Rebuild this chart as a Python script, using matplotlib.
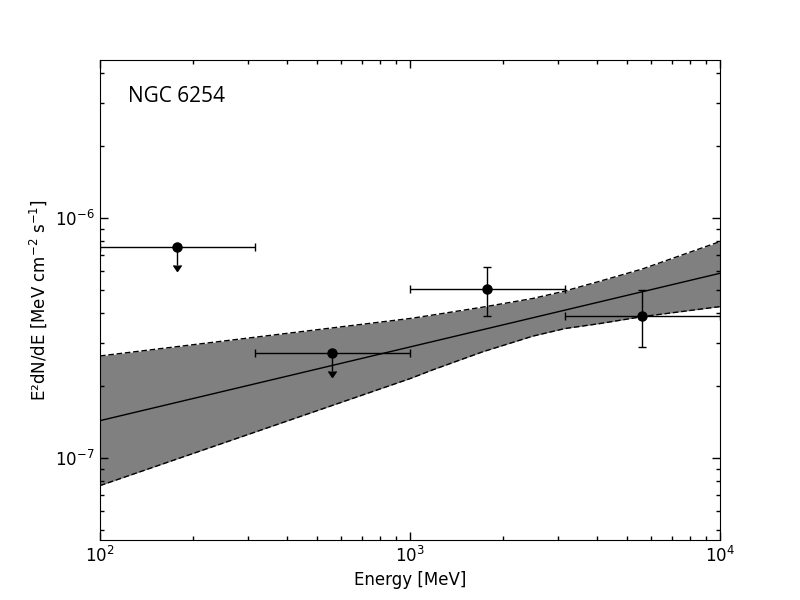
import numpy as np
import matplotlib
matplotlib.use("Agg")
import matplotlib.pyplot as plt
from matplotlib.ticker import NullFormatter

# SED points: energy bins [MeV] and E^2 dN/dE [MeV cm^-2 s^-1]
e_lo = np.array([100.0, 316.2, 1000.0, 3162.0])
e_hi = np.array([316.2, 1000.0, 3162.0, 10000.0])
e_mid = np.sqrt(e_lo * e_hi)
flux = np.array([7.57e-7, 2.74e-7, 5.04e-7, 3.89e-7])
flux_up = np.array([0.0, 0.0, 6.23e-7, 5.01e-7])
flux_down = np.array([0.0, 0.0, 3.89e-7, 2.89e-7])
is_ul = np.array([True, True, False, False])

# butterfly (fit uncertainty band)
band_e = np.array([100.0, 1000.0, 1186.0, 1718.0, 2496.0, 3162.0, 4100.0, 5623.0, 10000.0])
band_upper = np.array([2.66e-7, 3.81e-7, 3.94e-7, 4.25e-7, 4.62e-7, 4.96e-7, 5.45e-7, 6.13e-7, 7.97e-7])
band_lower = np.array([7.67e-8, 2.14e-7, 2.33e-7, 2.77e-7, 3.22e-7, 3.46e-7, 3.63e-7, 3.88e-7, 4.27e-7])

# best-fit power law end points
fit_e = np.array([100.0, 10000.0])
fit_flux = np.array([1.43e-7, 5.88e-7])

source_name = "NGC 6254"

plt.rcParams['font.family'] = 'DejaVu Sans'
plt.rcParams['mathtext.fontset'] = 'dejavusans'
plt.rcParams['axes.unicode_minus'] = False
plt.rcParams['xtick.direction'] = 'in'
plt.rcParams['ytick.direction'] = 'in'
plt.rcParams['xtick.top'] = True
plt.rcParams['ytick.right'] = True

fig = plt.figure(figsize=(8, 6), dpi=100)
ax = fig.add_axes([0.125, 0.1, 0.775, 0.8])

# band with dashed edges
ax.fill_between(band_e, band_lower, band_upper, color='0.5', lw=0)
ax.plot(band_e, band_upper, 'k--', lw=1, dashes=(4, 2))
ax.plot(band_e, band_lower, 'k--', lw=1, dashes=(4, 2))
ax.plot(fit_e, fit_flux, 'k-', lw=1)

xerr = [e_mid - e_lo, e_hi - e_mid]

# detected points
det = ~is_ul
ax.errorbar(e_mid[det], flux[det],
            xerr=[xerr[0][det], xerr[1][det]],
            yerr=[flux[det] - flux_down[det], flux_up[det] - flux[det]],
            fmt='o', color='k', ms=6.5, capsize=3, elinewidth=1, capthick=1)

# upper limits
ul = is_ul
ax.errorbar(e_mid[ul], flux[ul],
            xerr=[xerr[0][ul], xerr[1][ul]],
            yerr=[0.16 * flux[ul], np.zeros(ul.sum())],
            uplims=True, fmt='o', color='k', ms=6.5, capsize=3,
            elinewidth=1, capthick=1)

ax.set_xscale('log')
ax.set_yscale('log')
ax.set_xlim(1e2, 1e4)
ax.set_ylim(4.55e-8, 4.55e-6)

ax.tick_params(which='major', length=5.5, width=1, labelsize=12, pad=4)
ax.tick_params(which='minor', length=3, width=1)
ax.yaxis.set_minor_formatter(NullFormatter())
ax.xaxis.set_minor_formatter(NullFormatter())

ax.set_xlabel('Energy [MeV]', fontsize=12)
ax.set_ylabel('E\u00b2dN/dE [MeV cm$^{-2}$ s$^{-1}$]', fontsize=12)

ax.text(0.045, 0.912, source_name, transform=ax.transAxes,
        fontsize=15, family=['Open Sans', 'DejaVu Sans'], va='baseline')

fig.savefig('out.png', dpi=100, facecolor='white')
